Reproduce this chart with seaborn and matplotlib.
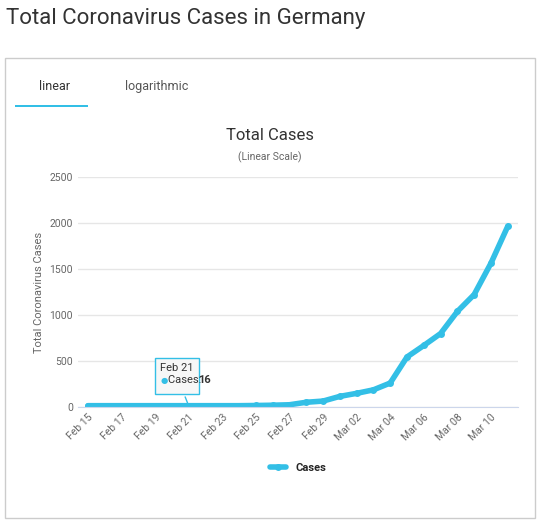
import pandas as pd
import matplotlib.pyplot as plt
import seaborn as sns
from matplotlib.patches import Rectangle

# datos
dates = pd.date_range("2020-02-15", "2020-03-11", freq="D")
cases = [16, 16, 16, 16, 16, 16, 16, 16, 16, 16, 18, 21, 26, 53, 66,
         117, 150, 188, 262, 545, 670, 800, 1040, 1224, 1565, 1966]
dates = dates[:len(cases)]
tick_labels = ["Feb 15", "Feb 17", "Feb 19", "Feb 21", "Feb 23", "Feb 25", "Feb 27",
               "Feb 29", "Mar 02", "Mar 04", "Mar 06", "Mar 08", "Mar 10"]

df = pd.DataFrame({"day": range(len(cases)), "Cases": cases})

sns.set_style("white")
plt.rcParams['font.family'] = ['Roboto', 'DejaVu Sans']
color = "#33bfe6"

fig = plt.figure(figsize=(5.4, 5.24), dpi=100)
fig.text(0.012, 0.965, "Total Coronavirus Cases in Germany", fontsize=16, color="#333333", va="center")
fig.patches.append(Rectangle((0.01, 0.012), 0.98, 0.878, transform=fig.transFigure,
                             fill=False, ec="#cccccc", lw=1))
fig.text(0.1, 0.835, "linear", fontsize=9, color="#333333", ha="center", va="center")
fig.text(0.29, 0.835, "logarithmic", fontsize=9, color="#555555", ha="center", va="center")
fig.patches.append(Rectangle((0.028, 0.795), 0.135, 0.005, transform=fig.transFigure,
                             color=color, lw=0))
fig.text(0.5, 0.742, "Total Cases", fontsize=12, color="#333333", ha="center", va="center")
fig.text(0.5, 0.700, "(Linear Scale)", fontsize=7.5, color="#666666", ha="center", va="center")

ax = fig.add_axes([0.144, 0.223, 0.815, 0.439])
sns.lineplot(data=df, x="day", y="Cases", ax=ax, color=color, lw=4,
             marker="o", markersize=5, markeredgewidth=0, label="Cases")
ax.set_ylim(0, 2500)
ax.set_yticks(range(0, 2501, 500))
ax.set_xlim(-0.6, len(cases) - 0.4)
ax.set_xticks(range(0, len(cases), 2))
ax.set_xticklabels(tick_labels, rotation=45, ha="right", rotation_mode="anchor")
ax.tick_params(labelsize=7.5, colors="#666666", length=0)
ax.grid(axis="y", color="#e6e6e6", lw=1)
for s in ["top", "right", "left"]:
    ax.spines[s].set_visible(False)
ax.spines["bottom"].set_color("#ccd6eb")
ax.set_xlabel("")
ax.set_ylabel("Total Coronavirus Cases", fontsize=8, color="#666666")
ax.legend(loc="upper center", bbox_to_anchor=(0.5, -0.2), frameon=False,
          prop={"weight": "bold", "size": 8}, handlelength=1.5)

# tooltip en Feb 21
ax.annotate("Feb 21\n", xy=(6, 16), xytext=(4.3, 340),
            fontsize=8, color="#333333", va="center", linespacing=1.6,
            bbox=dict(boxstyle="square,pad=0.5", fc="#f7f7f7", ec=color, lw=1),
            arrowprops=dict(arrowstyle="-", color=color, lw=1))
ax.text(4.3, 290, "\u25cf", fontsize=6, color=color, va="center", family=["DejaVu Sans"])
ax.text(4.8, 290, "Cases: ", fontsize=8, color="#333333", va="center")
ax.text(6.55, 290, "16", fontsize=8, color="#333333", va="center", weight="bold")

plt.savefig("out.png", dpi=100)
